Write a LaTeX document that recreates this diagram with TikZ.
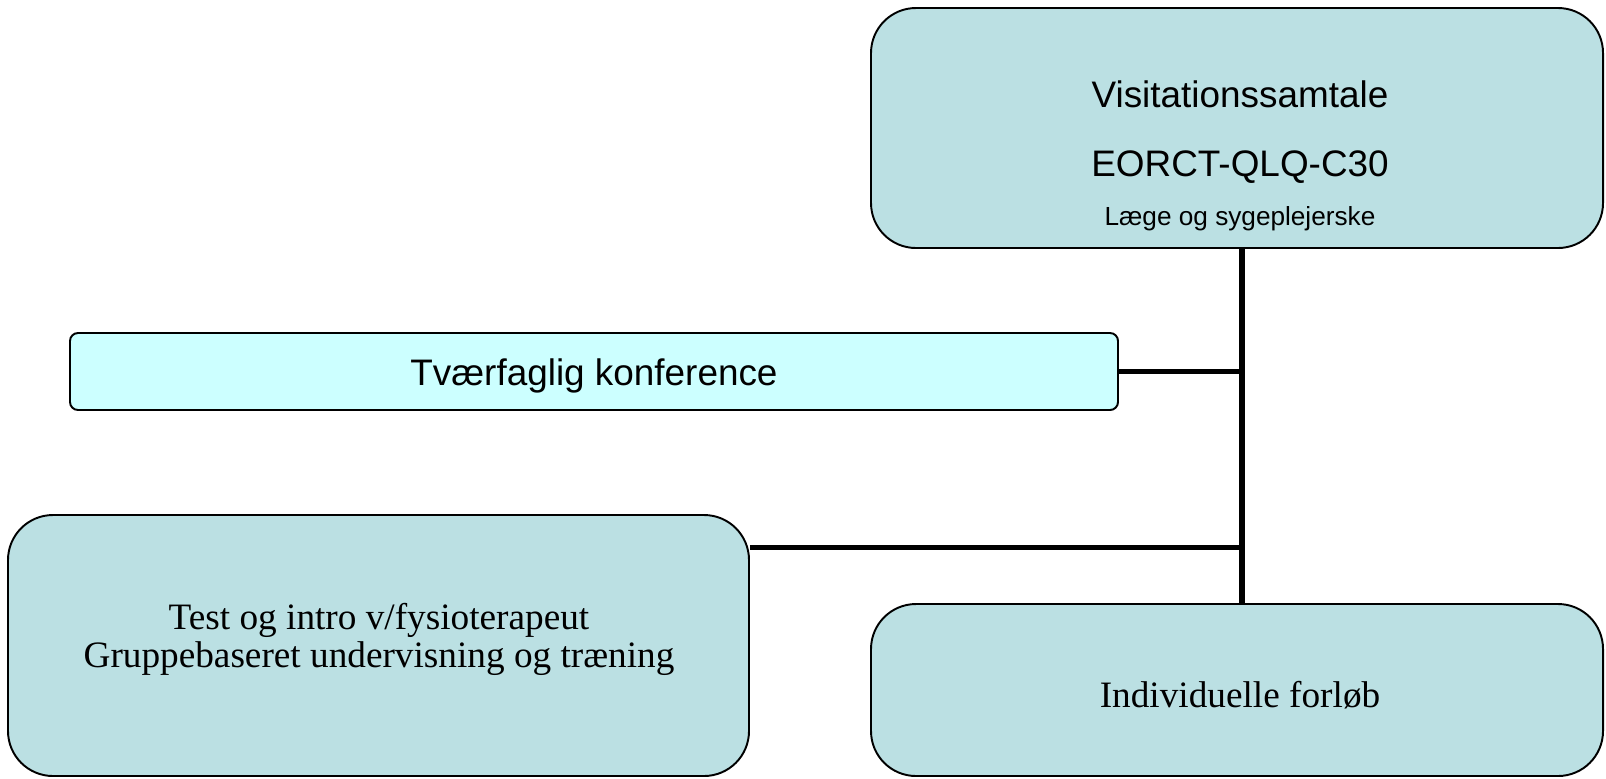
\documentclass[tikz,border=0pt]{standalone}
\usepackage{fontspec}
\setmainfont{Liberation Serif}
\setsansfont{Liberation Sans}
\usetikzlibrary{backgrounds}
\definecolor{boxfill}{HTML}{BBE0E3}
\definecolor{conffill}{HTML}{CCFFFF}

\begin{document}
\begin{tikzpicture}[
  x=1cm,
  y=1cm,
  box/.style={draw=black, line width=0.55pt, fill=boxfill,
              rounded corners=0.45cm, inner sep=0pt},
  confbox/.style={draw=black, line width=0.55pt, fill=conffill,
                  rounded corners=0.08cm, inner sep=0pt},
  trunk/.style={black, line width=1.45pt},
  sanstxt/.style={font=\sffamily\fontsize{10.5}{12.6}\selectfont,
                  anchor=base, inner sep=0pt},
  smalltxt/.style={font=\sffamily\fontsize{7.45}{9}\selectfont,
                   anchor=base, inner sep=0pt},
  seriftxt/.style={font=\rmfamily\fontsize{10.6}{12.7}\selectfont,
                   anchor=base, inner sep=0pt}
]
  % ---- common bounding box ----
  \useasboundingbox (0,0) rectangle (16.06,7.78);

  % ---- the four boxes ----
  \node[box, minimum width=7.32cm, minimum height=2.40cm] (visit) at (12.37,6.50) {};
  \node[confbox, minimum width=10.48cm, minimum height=0.77cm] (konf) at (5.94,4.065) {};
  \node[box, minimum width=7.41cm, minimum height=2.61cm] (gruppe) at (3.785,1.325) {};
  \node[box, minimum width=7.32cm, minimum height=1.72cm] (indiv) at (12.37,0.88) {};

  % ---- texts in the boxes ----
  \node[sanstxt]  (visname) at (12.40,6.705) {Visitationssamtale};
  \node[sanstxt]  (visform) at (12.40,6.02)  {EORCT-QLQ-C30};
  \node[smalltxt] (visstaf) at (12.40,5.53)  {Læge og sygeplejerske};
  \node[sanstxt]  (konfname) at (5.94,3.93)  {Tværfaglig konference};
  \node[seriftxt] (grptest) at (3.79,1.49)   {Test og intro v/fysioterapeut};
  \node[seriftxt] (grptrain) at (3.79,1.11)  {Gruppebaseret undervisning og træning};
  \node[seriftxt] (indname) at (12.40,0.71)  {Individuelle forløb};

  % ---- connectors, behind the boxes ----
  \coordinate (hub) at ([xshift=0.05cm]visit.south);
  \coordinate (grpside) at ([yshift=-0.33cm]gruppe.north east);
  \begin{scope}[on background layer]
    \draw[trunk] (hub) -- (hub |- indiv.north);
    \draw[trunk] (konf.east) -- (konf.east -| hub);
    \draw[trunk] (grpside) -- (grpside -| hub);
  \end{scope}
\end{tikzpicture}
\end{document}
